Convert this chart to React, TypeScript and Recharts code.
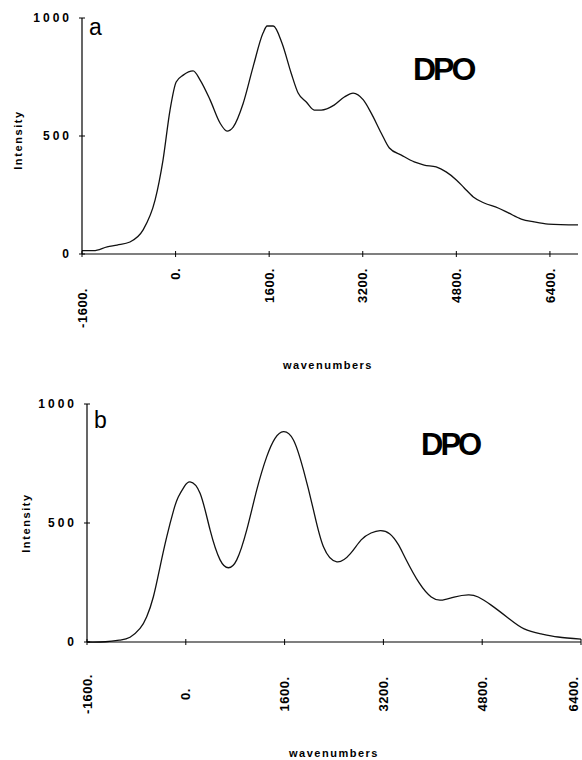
import React from "react";
import { LineChart, Line, XAxis, YAxis } from "recharts";

// panel a: measured spectrum
const waveA = [
  -1600, -1400, -1170, -1000, -780, -555, -350, -215, -95, 10, 130, 300, 420, 590, 760, 880, 985,
  1155, 1325, 1495, 1565, 1670, 1820, 1975, 2095, 2235, 2370, 2490, 2710, 2885, 3035, 3210, 3345,
  3515, 3655, 3860, 4080, 4250, 4455, 4625, 4800, 4935, 5090, 5275, 5515, 5690, 5910, 6130, 6370,
  6880,
];
const intensityA = [
  14, 14, 30, 38, 51, 102, 229, 398, 610, 729, 758, 776, 737, 653, 555, 521, 538, 638, 793, 936,
  966, 966, 893, 767, 682, 644, 610, 610, 631, 665, 682, 653, 597, 513, 449, 419, 390, 377, 369,
  348, 314, 280, 242, 216, 195, 174, 148, 136, 127, 123,
];

// panel b: fitted spectrum
const waveB = [
  -1600, -1300, -1065, -903, -741, -633, -525, -417, -309, -201, -120, -20, 69, 231, 393, 555, 690,
  825, 987, 1149, 1311, 1445, 1581, 1743, 1905, 2067, 2229, 2446, 2662, 2840, 3000, 3147, 3300,
  3440, 3560, 3780, 3975, 4135, 4345, 4575, 4735, 4945, 5220, 5480, 5755, 6030, 6400,
];
const intensityB = [
  0, 1, 8, 20, 57, 106, 190, 316, 442, 550, 610, 655, 673, 625, 471, 345, 312, 345, 471, 639, 779,
  856, 884, 849, 723, 555, 400, 337, 370, 429, 458, 468, 455, 410, 350, 248, 189, 176, 189, 198,
  189, 155, 101, 55, 34, 21, 12,
];

const xTicks = [-1600, 0, 1600, 3200, 4800, 6400];
const yTicks = [0, 500, 1000];

const FONT = '"Liberation Sans", Arial, sans-serif';

const dataA = waveA.map((w, i) => ({ w, v: intensityA[i] }));
const dataB = waveB.map((w, i) => ({ w, v: intensityB[i] }));

// x tick: small mark across the axis + vertical label
const XTick = ({ x, payload, index, base, labelY, anchor, firstDrop, maxX }: any) => {
  const lx = Math.min(x, maxX);
  const ly = index === 0 ? labelY + firstDrop : labelY;
  return (
    <g>
      <line x1={x} x2={x} y1={base - 3} y2={base + 3} stroke="#000" strokeWidth={1} />
      <text
        x={lx}
        y={ly}
        transform={`rotate(-90 ${lx} ${ly})`}
        textAnchor={anchor}
        dy="0.36em"
        fontFamily={FONT}
        fontWeight="bold"
        fontSize={13}
        letterSpacing={0.5}
        fill="#000"
      >
        {payload.value + "."}
      </text>
    </g>
  );
};

const YTick = ({ y, payload, axisX }: any) => (
  <g>
    <line x1={axisX - 3} x2={axisX + 3} y1={y} y2={y} stroke="#000" strokeWidth={1} />
    <text
      x={axisX - 10}
      y={y}
      dy="0.36em"
      textAnchor="end"
      fontFamily={FONT}
      fontWeight="bold"
      fontSize={12}
      letterSpacing={3}
      fill="#000"
    >
      {payload.value}
    </text>
  </g>
);

function Panel({ data, domainMax, left, right, top, bottom, labelY, anchor, firstDrop, maxX, curve }: any) {
  const H = 380;
  return (
    <LineChart width={582} height={H} data={data} margin={{ top, right, left: 0, bottom: 0 }}>
      <XAxis
        dataKey="w"
        type="number"
        domain={[-1600, domainMax]}
        ticks={xTicks}
        interval={0}
        allowDataOverflow
        height={H - bottom}
        axisLine={{ stroke: "#000", strokeWidth: 1.2 }}
        tickLine={false}
        tick={<XTick base={bottom} labelY={labelY} anchor={anchor} firstDrop={firstDrop} maxX={maxX} />}
      />
      <YAxis
        type="number"
        domain={[0, 1000]}
        ticks={yTicks}
        interval={0}
        width={left}
        axisLine={{ stroke: "#000", strokeWidth: 1.2 }}
        tickLine={false}
        tick={<YTick axisX={left} />}
      />
      <Line
        type={curve}
        dataKey="v"
        stroke="#111"
        strokeWidth={1.3}
        dot={false}
        isAnimationActive={false}
      />
    </LineChart>
  );
}

const bold = { fontFamily: FONT, fontWeight: "bold" as const, fill: "#000" };

export default function App() {
  return (
    <div style={{ position: "absolute", left: 0, top: 0, width: 582, height: 760, background: "#fff" }}>
      <div style={{ position: "absolute", left: 0, top: 0 }}>
        <Panel
          data={dataA}
          domainMax={6880}
          left={82}
          right={4}
          top={18}
          bottom={254}
          labelY={268}
          anchor="end"
          firstDrop={20}
          maxX={582}
          curve="monotone"
        />
      </div>
      <div style={{ position: "absolute", left: 0, top: 380 }}>
        <Panel
          data={dataB}
          domainMax={6400}
          left={87}
          right={1}
          top={24}
          bottom={262}
          labelY={314}
          anchor="middle"
          firstDrop={0}
          maxX={573}
          curve="natural"
        />
      </div>
      <svg
        width={582}
        height={760}
        style={{ position: "absolute", left: 0, top: 0, pointerEvents: "none" }}
      >
        {/* panel a */}
        <text x={89} y={35} fontSize={23} fontFamily={FONT} fill="#000">a</text>
        <text x={413} y={80} fontSize={32} letterSpacing={-3} {...bold}>DPO</text>
        <text
          x={18}
          y={140}
          transform="rotate(-90 18 140)"
          textAnchor="middle"
          dy="0.36em"
          fontSize={11}
          letterSpacing={1.6}
          {...bold}
        >
          Intensity
        </text>
        <text x={328} y={365} dy="0.36em" textAnchor="middle" fontSize={11} letterSpacing={1.5} {...bold}>
          wavenumbers
        </text>
        {/* panel b */}
        <text x={94} y={428} fontSize={23} fontFamily={FONT} fill="#000">b</text>
        <text x={421} y={455} fontSize={31} letterSpacing={-3} {...bold}>DPO</text>
        <text
          x={26}
          y={523}
          transform="rotate(-90 26 523)"
          textAnchor="middle"
          dy="0.36em"
          fontSize={11}
          letterSpacing={1.6}
          {...bold}
        >
          Intensity
        </text>
        <text x={334} y={753} dy="0.36em" textAnchor="middle" fontSize={11} letterSpacing={1.5} {...bold}>
          wavenumbers
        </text>
      </svg>
    </div>
  );
}
